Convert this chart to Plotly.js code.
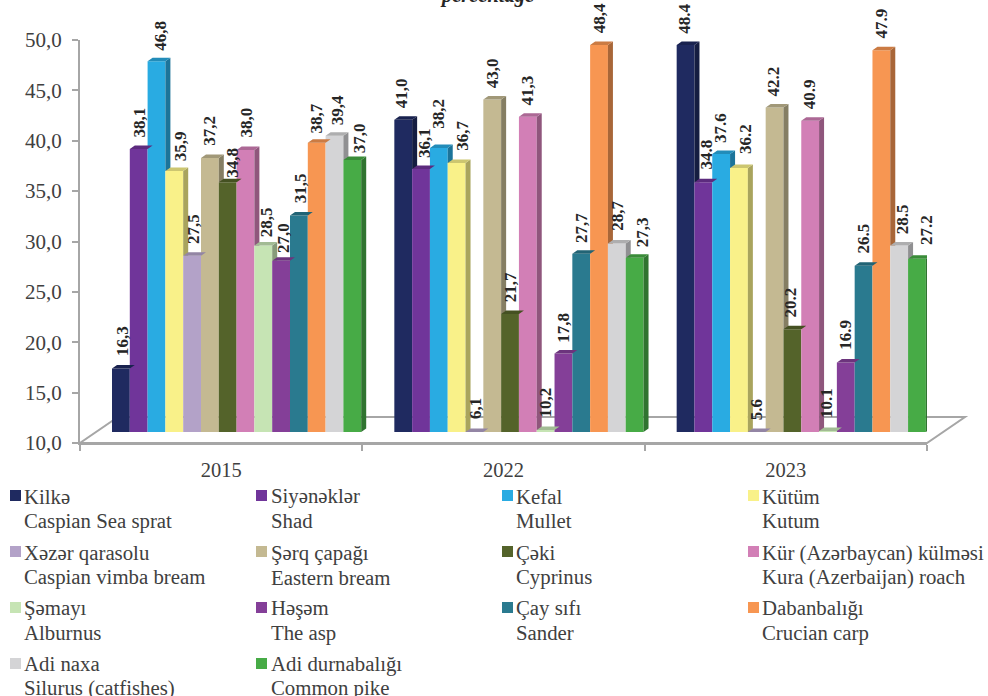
<!DOCTYPE html>
<html>
<head>
<meta charset="utf-8">
<script src="https://cdn.plot.ly/plotly-3.0.1.min.js"></script>
<style>html,body{margin:0;padding:0;background:#fff}#chart{width:988px;height:696px}</style>
</head>
<body>
<div id="chart"></div>
<script>
// ---- data ----
const years = ['2015', '2022', '2023'];
const decimalMark = [',', ',', '.'];
const namesAz = ['Kilkə','Siyənəklər','Kefal','Kütüm','Xəzər qarasolu','Şərq çapağı','Çəki','Kür (Azərbaycan) külməsi','Şəmayı','Həşəm','Çay sıfı','Dabanbalığı','Adi naxa','Adi durnabalığı'];
const namesEn = ['Caspian Sea sprat','Shad','Mullet','Kutum','Caspian vimba bream','Eastern bream','Cyprinus','Kura (Azerbaijan) roach','Alburnus','The asp','Sander','Crucian carp','Silurus (catfishes)','Common pike'];
const colors = ['#1f2a60','#70359a','#29abe2','#f9f189','#b3a2c8','#c4b992','#54632a','#d27fb6','#c6e4b4','#843f98','#2a7a8f','#f79652','#d4d4d6','#47ab46'];
const v2015 = [16.3,38.1,46.8,35.9,27.5,37.2,34.8,38.0,28.5,27.0,31.5,38.7,39.4,37.0];
const v2022 = [41.0,36.1,38.2,36.7,6.1,43.0,21.7,41.3,10.2,17.8,27.7,48.4,28.7,27.3];
const v2023 = [48.4,34.8,37.6,36.2,5.6,42.2,20.2,40.9,10.1,16.9,26.5,47.9,28.5,27.2];
const yTickVals = [10,15,20,25,30,35,40,45,50];
const yTickText = ['10,0','15,0','20,0','25,0','30,0','35,0','40,0','45,0','50,0'];
const titleText = 'percentage';

// ---- label placement (pixels, per year and species) ----
const labelDx = [
  [1,1,4.5,6,2,0,4,1,3,2,1,0,3,8],
  [-1,3,0,5,1,0,0,0,0,0,0,0,0,8],
  [-1,3,0,6,0,-1,-2,0,-1,0,0,0,3,9]
];
const labelGap = [
  [13.5,12,11.4,11,12.7,13,5,13,9.6,8.7,13,10,11,8],
  [12.7,12,20,13,14,12.5,13,12,13,12,12,13,13.6,11],
  [12,14,12,15,13,11.6,13,12.7,14,13.5,12.8,13,12.6,14.7]
];

// ---- geometry ----
const L = 80, R = 927, T = 40, B = 443, W = 988, H = 696;
const pxX = (R - L) / 3, pxY = (B - T) / 40;
const groupGap = 32 / pxX, barW = 17.8 / pxX, depthX = 5 / pxX, depthY = 3.5 / pxY, lift = 11 / pxY;
const floorBase = 10 + lift;
const groups = [v2015, v2022, v2023];
const xp = p => (p - L) / (R - L), yp = p => (B - p) / (B - T);

function shade(hex, f) {
  const n = parseInt(hex.slice(1), 16);
  const c = [n >> 16, (n >> 8) & 255, n & 255].map(a => Math.round(a * f));
  return `rgb(${c[0]},${c[1]},${c[2]})`;
}
const topOf = v => Math.max(v, 10) + lift;
const barX = (g, i) => g + groupGap + (i + 0.5) * barW;

// ---- traces ----
const traces = [];
colors.forEach((col, i) => {
  traces.push({
    type: 'bar', name: namesAz[i], showlegend: false, hoverinfo: 'skip',
    x: groups.map((_, g) => barX(g, i)),
    y: groups.map(vals => Math.max(vals[i] - 10, 0)),
    base: floorBase, width: barW,
    marker: {color: col, line: {width: 0}}
  });
});
colors.forEach((col, i) => {
  const sx = [], sy = [], tx = [], ty = [];
  groups.forEach((vals, g) => {
    const x1 = barX(g, i) + barW / 2, x0 = x1 - barW, t = topOf(vals[i]);
    const next = i < colors.length - 1 ? topOf(vals[i + 1]) : null;
    if (next === null) {
      sx.push(x1, x1 + depthX, x1 + depthX, x1, x1, null);
      sy.push(t, t + depthY, floorBase + depthY, floorBase, t, null);
    } else if (next < t + depthY) {
      const low = Math.max(next, floorBase);
      sx.push(x1, x1 + depthX, x1 + depthX, x1, x1, null);
      sy.push(t, t + depthY, low, low, t, null);
    }
    tx.push(x0, x0 + depthX, x1 + depthX, x1, x0, null);
    ty.push(t, t + depthY, t + depthY, t, t, null);
  });
  traces.push({type:'scatter', mode:'lines', x:sx, y:sy, fill:'toself', fillcolor:shade(col,0.68), line:{width:0}, showlegend:false, hoverinfo:'skip', cliponaxis:false});
  traces.push({type:'scatter', mode:'lines', x:tx, y:ty, fill:'toself', fillcolor:shade(col,0.82), line:{width:0}, showlegend:false, hoverinfo:'skip', cliponaxis:false});
});

// ---- annotations ----
const annotations = [];
groups.forEach((vals, g) => {
  vals.forEach((v, i) => {
    annotations.push({
      x: barX(g, i), y: topOf(v), xref: 'x', yref: 'y', xanchor: 'center', yanchor: 'bottom',
      xshift: labelDx[g][i], yshift: labelGap[g][i] - 3, textangle: -90, showarrow: false,
      text: v.toFixed(1).replace('.', decimalMark[g]),
      font: {family: 'Liberation Serif', size: 17, color: '#262626', weight: 700}
    });
  });
});
const colTextX = [22, 268.5, 514, 760], colSwatchX = [10, 256, 502, 748];
const rowLine1 = [496, 552.5, 608, 663.5], rowLine2 = [520.5, 577, 632.5, 688];
const rowSwatch = [490, 546, 602, 658];
const shapes = [];
// floor
const floorPath = `M ${xp(L)} ${yp(B)} L ${xp(R)} ${yp(B)} L ${xp(965)} ${yp(417)} L ${xp(118)} ${yp(417)} Z`;
shapes.push({type:'path', xref:'paper', yref:'paper', layer:'below', path:floorPath, fillcolor:'#ffffff', line:{color:'#a6a6a6', width:2}});
colors.forEach((col, i) => {
  const c = i % 4, r = Math.floor(i / 4);
  shapes.push({type:'rect', xref:'paper', yref:'paper', x0:xp(colSwatchX[c]), x1:xp(colSwatchX[c]+11), y0:yp(rowSwatch[r]), y1:yp(rowSwatch[r]+11), fillcolor:col, line:{width:0}});
  [[namesAz[i], rowLine1[r]], [namesEn[i], rowLine2[r]]].forEach(([t, py]) => {
    annotations.push({x:xp(colTextX[c]), y:yp(py), xref:'paper', yref:'paper', xanchor:'left', yanchor:'middle', showarrow:false, text:t, font:{family:'Liberation Serif', size:20.8, color:'#404040'}});
  });
});

const layout = {
  width: W, height: H, paper_bgcolor: '#fff', plot_bgcolor: 'rgba(0,0,0,0)',
  margin: {l: L, r: W - R, t: T, b: H - B, pad: 0},
  showlegend: false, barmode: 'overlay', font: {family: 'Liberation Serif', color: '#404040'},
  title: {text: titleText, x: 488 / W, xanchor: 'center', y: 1 - 2 / H, yanchor: 'bottom', font: {family:'Liberation Serif', size: 20.5, color:'#262626', weight:700, style:'italic'}},
  xaxis: {type:'linear', range:[0,3], tickmode:'array', tickvals:[0.5,1.5,2.5], ticktext:years, ticks:'', showgrid:false, zeroline:false,
    showline:true, linecolor:'#a6a6a6', linewidth:2, tickfont:{size:20.5, color:'#404040'}, ticklabelstandoff:7,
    minor:{tickmode:'array', tickvals:[0,1,2,3], ticks:'outside', ticklen:6, tickwidth:2, tickcolor:'#a6a6a6', showgrid:false}},
  yaxis: {range:[10,50], tickmode:'array', tickvals:yTickVals, ticktext:yTickText, ticks:'outside', ticklen:6, tickwidth:2, tickcolor:'#a6a6a6', showgrid:false, zeroline:false,
    showline:true, linecolor:'#a6a6a6', linewidth:2, tickfont:{size:21, color:'#404040'}, ticklabelstandoff:6},
  shapes, annotations
};
Plotly.newPlot('chart', traces, layout, {displayModeBar:false, staticPlot:true});
</script>
</body>
</html>
